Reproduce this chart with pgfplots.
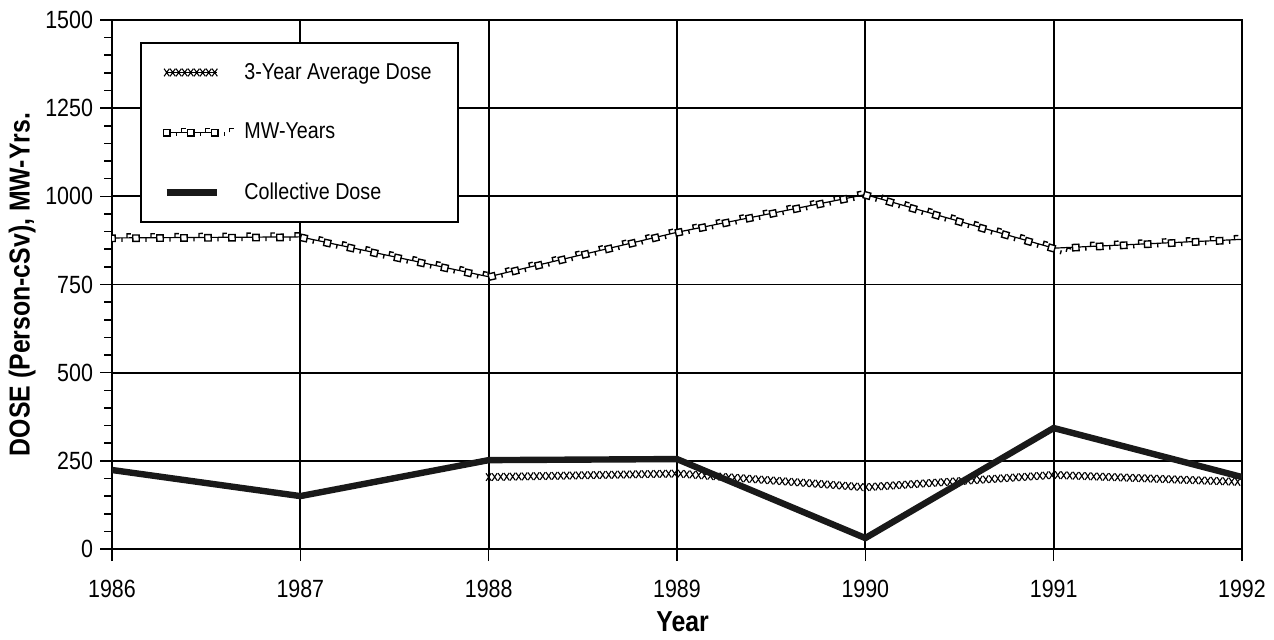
\documentclass[border=0pt]{standalone}
\usepackage{fontspec}
\setmainfont{Liberation Sans}[FakeStretch=0.86]
\usepackage{pgfplots}
\pgfplotsset{compat=1.18}
\usetikzlibrary{decorations.markings}

% x = year - 1986
\pgfplotstableread{
x dose
0 224
1 150
2 252
3 255
4 31
5 343
6 204
}\collective

\pgfplotstableread{
x mw
0 882
1 885
2 772
3 898
4 1005
5 853
6 878
}\mwyears

\pgfplotstableread{
x avg
2 204
3 214
4 175
5 210
6 190
}\avgdose

\tikzset{
  avgstyle/.style={draw=none, postaction={decorate}, decoration={markings,
    mark=between positions 0 and 1 step 3bp with {\draw[line width=0.55pt, black] (-1.3bp,-1.9bp)--(1.3bp,1.9bp) (-1.3bp,1.9bp)--(1.3bp,-1.9bp);}}},
  mwstyle/.style={black, line width=0.6pt, postaction={decorate}, decoration={markings,
    mark=between positions 0 and 1 step 12bp with {\draw[line width=0.7pt, black, fill=white] (-1.6bp,-1.8bp) rectangle (1.6bp,1.4bp);
      \draw[line width=0.7pt, black] (5bp,0bp)--(5bp,-2bp) (7.5bp,0)--(7.5bp,2bp)--(9.5bp,2bp);}}},
  colstyle/.style={black!90, line width=3.2bp},
}

\begin{document}
\begin{tikzpicture}
\begin{axis}[
  scale only axis, width=565bp, height=264.5bp,
  xmin=0, xmax=6, ymin=0, ymax=1500,
  xtick={0,1,2,3,4,5,6},
  xticklabels={1986,1987,1988,1989,1990,1991,1992},
  ytick={0,250,500,750,1000,1250,1500},
  minor y tick num=4,
  /pgf/number format/1000 sep={},
  /pgf/number format/assume math mode=true,
  grid=major, major grid style={black, line width=0.9pt},
  axis line style={line width=1.3pt},
  tick align=outside, tick pos=left,
  major tick length=6bp, minor tick length=4bp,
  every tick/.style={black, line width=0.8pt},
  ticklabel style={font=\fontsize{12.5}{14}\selectfont},
  xticklabel style={yshift=-6bp},
  xlabel={Year}, ylabel={DOSE (Person-cSv), MW-Yrs.},
  label style={font=\bfseries\fontsize{14.5}{16}\selectfont},
  xlabel style={at={(axis description cs:0.505,-0.138)}, anchor=center},
  ylabel style={at={(axis description cs:-0.0796,0.5)}, anchor=center},
  legend style={at={(axis description cs:0.0248,0.958)}, anchor=north west,
    draw=black, line width=0.8pt, inner xsep=11bp, inner ysep=8bp,
    row sep=16.5bp, font=\fontsize{11.5}{13}\selectfont,
    /tikz/every odd column/.append style={column sep=3bp}},
  legend cell align=left,
  legend image code/.code={\draw[#1] (0bp,0bp) -- (25bp,0bp);},
]
\addplot[avgstyle] table[x=x, y=avg] {\avgdose};
\addlegendentry{3-Year Average Dose}
\addplot[mwstyle] table[x=x, y=mw] {\mwyears};
\addlegendentry{MW-Years}
\addplot[colstyle] table[x=x, y=dose] {\collective};
\addlegendentry{Collective Dose}
\coordinate (sw) at (rel axis cs:0,0);
\coordinate (ne) at (rel axis cs:1,1);
\end{axis}
\pgfresetboundingbox
\path ([shift={(-56bp,-45.5bp)}]sw) rectangle ([shift={(16bp,10bp)}]ne);
\end{tikzpicture}
\end{document}
